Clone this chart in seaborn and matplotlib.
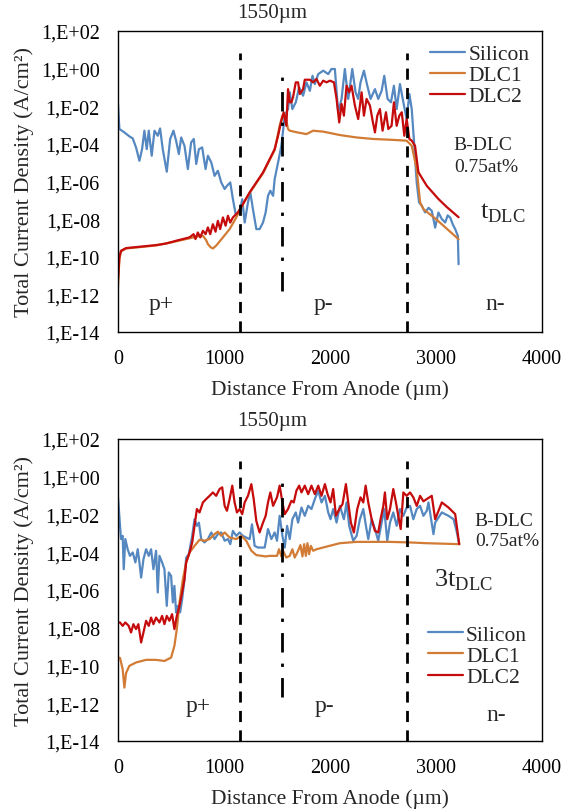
import numpy as np
import pandas as pd
import matplotlib
matplotlib.use("Agg")
import matplotlib.pyplot as plt
import seaborn as sns

# ---- data (x in um, values are log10 of A/cm2) ----
# top panel: t_DLC
top_si_x = [0, 13, 60, 107, 139, 170, 202, 227, 249, 271, 290, 318, 344, 375, 397, 422, 460, 492,
            523, 548, 574, 596, 627, 659, 690, 715, 738, 763, 794, 826, 848, 880, 911, 942, 974,
            1006, 1028, 1059, 1084, 1110, 1147, 1172, 1195, 1226, 1248, 1273, 1305, 1336, 1368,
            1393, 1415, 1437, 1463, 1478, 1510, 1541, 1573, 1604, 1620, 1645, 1677, 1709, 1746,
            1778, 1810, 1835, 1857, 1889, 1936, 1983, 2014, 2046, 2077, 2109, 2140, 2172, 2210,
            2241, 2266, 2288, 2320, 2352, 2383, 2424, 2455, 2487, 2512, 2543, 2575, 2603, 2629,
            2660, 2692, 2723, 2749, 2771, 2793, 2818, 2840, 2866, 2897, 2930, 2960, 2992, 3023,
            3055, 3087, 3110, 3134, 3160, 3181, 3206, 3213]
top_si_log = [-1.9, -3.21, -3.39, -3.6, -3.71, -4.19, -4.9, -4.28, -3.3, -4.28, -3.3, -4.63, -3.3,
              -3.57, -3.18, -4.28, -5.48, -3.74, -3.3, -3.83, -4.54, -3.66, -4.1, -5.34, -3.92,
              -3.74, -5.07, -4.28, -4.19, -5.34, -4.63, -4.99, -5.7, -5.43, -6.05, -6.4, -6.23,
              -6.05, -6.94, -7.73, -7.68, -6.94, -8.18, -7.11, -6.58, -7.47, -8.53, -8.53, -8.18,
              -7.64, -6.76, -6.49, -6.76, -5.87, -4.99, -4.1, -2.5, -2.15, -1.26, -2.15, -1.79,
              -1.0, -1.44, -0.73, -1.18, -0.38, -0.82, -0.29, -0.11, -0.29, -0.02, -0.02, -2.32,
              -1.61, -0.02, -1.61, -0.02, -1.26, -1.61, -0.73, -0.11, -0.91, -1.61, -1.09, -1.61,
              -1.18, -0.38, -1.61, -1.79, -0.91, -2.15, -0.82, -1.79, -2.68, -1.35, -2.15, -3.92,
              -6.05, -7.11, -7.29, -7.64, -7.4, -7.56, -8.45, -7.65, -8.0, -8.18, -7.8, -7.92,
              -8.3, -8.53, -8.89, -10.4]

top_d1_x = [0, 13, 28, 76, 202, 359, 517, 612, 675, 750, 801, 830, 848, 875, 895, 926, 990, 1053,
            1116, 1178, 1242, 1305, 1368, 1431, 1478, 1525, 1551, 1573, 1588, 1604, 1620, 1700,
            1778, 1841, 1936, 2093, 2251, 2408, 2566, 2723, 2771, 2818, 2850, 2881, 3000, 3100, 3213]
top_d1_log = [-11.6, -10.1, -9.72, -9.56, -9.49, -9.4, -9.22, -9.1, -9.02, -8.92, -8.89, -9.1,
              -9.33, -9.5, -9.56, -9.41, -8.97, -8.53, -7.91, -7.22, -6.6, -6.08, -5.56, -4.85,
              -4.32, -3.04, -2.5, -2.41, -2.77, -3.21, -3.3, -3.4, -3.48, -3.3, -3.35, -3.53,
              -3.66, -3.74, -3.78, -3.83, -4.1, -5.34, -7.11, -7.47, -8.0, -8.5, -9.07]

top_d2_x = [0, 13, 28, 76, 202, 359, 450, 517, 548, 612, 675, 713, 731, 753, 776, 801, 826, 848,
            870, 895, 920, 942, 964, 990, 1015, 1037, 1059, 1084, 1131, 1178, 1242, 1305, 1368,
            1431, 1478, 1510, 1541, 1563, 1588, 1604, 1620, 1636, 1651, 1677, 1699, 1715, 1746,
            1762, 1810, 1841, 1873, 1904, 1936, 1967, 1999, 2037, 2062, 2087, 2109, 2131, 2156,
            2181, 2203, 2235, 2266, 2298, 2320, 2345, 2377, 2402, 2424, 2446, 2471, 2496, 2528,
            2550, 2581, 2603, 2629, 2654, 2677, 2701, 2723, 2749, 2771, 2802, 2834, 2866, 2913,
            3023, 3100, 3213]
top_d2_log = [-11.2, -10.04, -9.68, -9.54, -9.47, -9.38, -9.3, -9.2, -9.15, -9.06, -8.97, -8.8,
              -9.06, -8.71, -8.97, -8.62, -8.8, -8.44, -8.8, -8.27, -8.67, -8.09, -8.53, -7.91,
              -8.35, -7.82, -8.18, -7.91, -7.64, -7.2, -6.58, -6.05, -5.52, -4.81, -4.28, -3.57,
              -2.77, -2.32, -3.04, -1.09, -1.79, -1.79, -1.53, -0.73, -0.73, -1.35, -1.09, -0.59,
              -0.59, -0.73, -0.55, -0.91, -0.64, -0.73, -0.64, -0.73, -1.61, -2.86, -1.88, -2.5,
              -0.91, -1.26, -0.91, -1.97, -2.68, -1.26, -2.5, -1.61, -1.97, -2.77, -3.39, -2.5,
              -2.15, -3.3, -2.32, -3.21, -3.04, -1.79, -3.04, -2.5, -2.32, -3.57, -2.68, -3.74,
              -3.83, -4.1, -5.5, -5.8, -6.23, -6.93, -7.35, -7.9]

# bottom panel: 3t_DLC
bot_si_x = [0, 28, 44, 54, 69, 91, 113, 139, 164, 186, 202, 218, 240, 265, 290, 312, 334, 359,
            375, 391, 416, 438, 460, 479, 501, 517, 532, 548, 564, 586, 605, 627, 643, 668, 700,
            722, 744, 763, 785, 816, 848, 880, 911, 942, 974, 1006, 1037, 1059, 1084, 1116, 1147,
            1178, 1210, 1242, 1264, 1289, 1320, 1384, 1415, 1447, 1478, 1500, 1525, 1551, 1573,
            1595, 1620, 1645, 1677, 1699, 1731, 1762, 1794, 1825, 1857, 1889, 1920, 1952, 1983,
            2005, 2030, 2062, 2093, 2131, 2156, 2181, 2219, 2251, 2282, 2314, 2339, 2361, 2393,
            2424, 2455, 2487, 2512, 2540, 2566, 2597, 2629, 2660, 2692, 2723, 2755, 2786, 2818,
            2850, 2881, 2913, 2929, 2976, 2992, 3055, 3118, 3166, 3197, 3219]
bot_si_log = [-1.09, -3.3, -3.13, -4.9, -3.3, -3.84, -4.19, -4.01, -4.54, -3.84, -4.54, -5.34,
              -4.37, -3.84, -4.19, -3.84, -4.9, -3.92, -6.13, -4.19, -4.54, -4.9, -6.84, -5.07,
              -5.25, -6.66, -5.78, -7.19, -6.84, -7.19, -6.49, -5.43, -4.28, -4.1, -3.13, -2.25,
              -2.6, -2.43, -3.3, -3.48, -3.3, -2.95, -3.3, -3.04, -2.95, -3.39, -3.3, -3.57,
              -2.87, -3.13, -2.95, -3.13, -3.22, -3.3, -2.52, -3.66, -3.75, -3.75, -2.77, -3.3,
              -2.95, -3.39, -2.07, -3.13, -3.75, -2.6, -3.3, -2.25, -1.89, -2.43, -1.63, -2.07,
              -1.54, -1.71, -1.18, -0.74, -1.36, -1.01, -1.89, -2.25, -1.71, -2.43, -1.54, -2.25,
              -1.36, -2.6, -3.39, -3.13, -2.25, -1.71, -2.6, -3.3, -2.25, -2.77, -3.39, -2.43,
              -1.71, -3.39, -2.43, -1.89, -2.6, -1.71, -2.07, -1.63, -1.54, -2.25, -1.71, -1.54,
              -2.07, -1.8, -1.36, -3.04, -2.43, -1.89, -2.07, -2.25, -2.95, -3.57]

bot_d1_x = [0, 19, 44, 60, 76, 107, 170, 265, 359, 438, 501, 532, 555, 580, 612, 643, 675, 722,
            769, 816, 864, 911, 942, 974, 1006, 1053, 1116, 1163, 1210, 1258, 1305, 1393, 1431,
            1500, 1519, 1541, 1557, 1588, 1620, 1645, 1667, 1699, 1721, 1740, 1756, 1772, 1787,
            1803, 1819, 1841, 1873, 1967, 2093, 2251, 2408, 2566, 2755, 2913, 3219]
bot_d1_log = [-9.58, -9.6, -10.2, -11.17, -10.4, -10.02, -9.84, -9.7, -9.7, -9.76, -9.58, -8.96,
              -8.07, -6.66, -5.43, -4.54, -4.01, -3.66, -3.34, -3.39, -3.3, -3.04, -2.91, -3.13,
              -2.95, -3.22, -3.3, -3.13, -3.39, -3.92, -4.15, -4.22, -4.19, -4.19, -3.84, -4.22,
              -3.92, -4.28, -4.19, -3.84, -4.28, -3.92, -3.62, -4.22, -3.57, -4.19, -3.52, -4.1,
              -3.66, -3.92, -3.84, -3.7, -3.52, -3.45, -3.45, -3.45, -3.48, -3.52, -3.57]

bot_d2_x = [0, 19, 44, 69, 101, 123, 145, 170, 192, 218, 240, 265, 290, 312, 334, 359, 391, 416,
            438, 460, 485, 510, 532, 555, 580, 605, 627, 643, 675, 700, 722, 744, 769, 801, 832,
            864, 895, 926, 958, 983, 1006, 1028, 1053, 1078, 1100, 1122, 1147, 1172, 1195, 1226,
            1258, 1280, 1305, 1336, 1368, 1393, 1415, 1437, 1463, 1500, 1525, 1551, 1573, 1604,
            1636, 1658, 1683, 1709, 1731, 1762, 1794, 1825, 1857, 1889, 1920, 1952, 1977, 2005,
            2030, 2056, 2087, 2118, 2150, 2172, 2197, 2225, 2257, 2288, 2314, 2336, 2361, 2393,
            2424, 2455, 2477, 2503, 2518, 2540, 2566, 2597, 2622, 2644, 2667, 2692, 2723, 2755,
            2786, 2818, 2850, 2881, 2913, 2960, 2992, 3055, 3118, 3181, 3219]
bot_d2_log = [-7.72, -7.72, -7.9, -7.72, -7.9, -8.25, -7.81, -8.07, -7.81, -8.78, -8.25, -7.63,
              -7.9, -7.46, -7.81, -7.46, -7.72, -7.37, -7.81, -7.37, -7.63, -7.28, -8.07, -7.37,
              -6.84, -6.13, -5.43, -4.54, -4.01, -3.48, -2.6, -1.71, -1.89, -1.36, -1.18, -1.01,
              -0.83, -1.01, -0.65, -0.56, -1.54, -1.8, -1.18, -0.47, -1.36, -1.89, -1.71, -1.98,
              -1.36, -1.01, -0.39, -1.18, -2.35, -2.95, -2.43, -2.07, -1.36, -0.83, -1.54, -1.09,
              -0.47, -1.36, -1.98, -1.71, -1.27, -1.36, -0.74, -0.47, -0.83, -0.47, -0.92, -0.47,
              -0.92, -0.47, -1.01, -0.39, -0.92, -1.36, -0.65, -2.07, -1.71, -1.45, -0.39, -1.36,
              -2.43, -2.95, -1.71, -1.09, -1.36, -0.47, -1.36, -2.25, -2.87, -2.95, -2.25, -1.54,
              -0.83, -2.25, -1.71, -0.65, -1.36, -2.07, -2.77, -0.83, -1.01, -0.83, -1.09, -1.54,
              -1.01, -1.3, -1.18, -1.01, -2.25, -1.36, -1.63, -1.98, -3.57]

series_names = ["Silicon", "DLC1", "DLC2"]
colors = {"Silicon": "#5588c0", "DLC1": "#d27b34", "DLC2": "#c50b0b"}
junctions = [1150, 2730]
mid_depth = 1550
ytick_vals = [1e2, 1e0, 1e-2, 1e-4, 1e-6, 1e-8, 1e-10, 1e-12, 1e-14]
ytick_labels = ["1,E+02", "1,E+00", "1,E-02", "1,E-04", "1,E-06", "1,E-08", "1,E-10", "1,E-12", "1,E-14"]
xtick_vals = [0, 1000, 2000, 3000, 4000]


def make_df(parts):
    frames = []
    for name, xs, lg in parts:
        frames.append(pd.DataFrame({"x": xs, "y": 10.0 ** np.array(lg), "series": name}))
    return pd.concat(frames, ignore_index=True)


df_top = make_df([("Silicon", top_si_x, top_si_log), ("DLC1", top_d1_x, top_d1_log),
                  ("DLC2", top_d2_x, top_d2_log)])
df_bot = make_df([("Silicon", bot_si_x, bot_si_log), ("DLC1", bot_d1_x, bot_d1_log),
                  ("DLC2", bot_d2_x, bot_d2_log)])

sns.set_style("white")
plt.rcParams["font.family"] = ["Liberation Serif", "DejaVu Serif"]
plt.rcParams["mathtext.fontset"] = "custom"
plt.rcParams["mathtext.rm"] = "Liberation Serif"

fig = plt.figure(figsize=(5.66, 8.12), dpi=100)
ax1 = fig.add_axes([0.2085, 0.5899, 0.7491, 0.3707])
ax2 = fig.add_axes([0.2085, 0.0862, 0.7491, 0.3719])


def style_axis(ax, df, dd_ymax, dd_ymin, legend_loc, legend_anchor):
    ax.set_yscale("log")
    sns.lineplot(data=df, x="x", y="y", hue="series", hue_order=series_names, palette=colors,
                 estimator=None, sort=False, lw=1.6, ax=ax)
    ax.set_xlim(0, 4000)
    ax.set_ylim(1e-14, 1e2)
    ax.set_xticks(xtick_vals, [str(v) for v in xtick_vals])
    ax.set_yticks(ytick_vals, ytick_labels)
    ax.minorticks_off()
    ax.tick_params(axis="both", length=0, labelsize=14.5, colors="black")
    ax.tick_params(axis="y", pad=13)
    ax.tick_params(axis="x", pad=12)
    ax.set_xlabel("Distance From Anode (\u00b5m)", fontsize=15.5, labelpad=8)
    ax.set_ylabel("Total Current Density (A/cm\u00b2)", fontsize=16, labelpad=5)
    for sp in ax.spines.values():
        sp.set_color("black")
        sp.set_linewidth(1.0)
    for j in junctions:
        ax.axvline(j, ymin=0, ymax=0.927, color="black", lw=2.0, ls=(0, (4, 3)))
    ax.axvline(mid_depth, ymin=dd_ymin, ymax=dd_ymax, color="black", lw=2.0,
               ls=(0, (7, 4, 1.2, 4)))
    ax.text(1450, 1.06, "1550\u00b5m", transform=ax.get_xaxis_transform(),
            ha="center", va="center", fontsize=15)
    sns.move_legend(ax, legend_loc, bbox_to_anchor=legend_anchor, frameon=False, title=None,
                    fontsize=15.5, handlelength=1.6, handletextpad=0.15, labelspacing=0.05,
                    borderaxespad=0)


style_axis(ax1, df_top, 0.880, 0.136, "upper right", (0.99, 0.985))
style_axis(ax2, df_bot, 0.877, 0.146, "lower right", (0.985, 0.15))

# region labels and annotations
ax1.text(407, 10 ** -12.5, "p+", fontsize=17, ha="center", va="center")
ax1.text(1940, 10 ** -12.5, "p-", fontsize=17, ha="center", va="center")
ax1.text(3560, 10 ** -12.5, "n-", fontsize=17, ha="center", va="center")
ax1.text(3168, 10 ** -4.06, "B-DLC", fontsize=14, ha="left", va="center")
ax1.text(3168, 10 ** -5.2, "0.75at%", fontsize=14, ha="left", va="center")
ax1.text(3414, 10 ** -7.63, r"t$_{\mathrm{DLC}}$", fontsize=19, ha="left", va="center")

ax2.text(757, 10 ** -12.1, "p+", fontsize=17, ha="center", va="center")
ax2.text(1948, 10 ** -12.1, "p-", fontsize=17, ha="center", va="center")
ax2.text(3565, 10 ** -12.6, "n-", fontsize=17, ha="center", va="center")
ax2.text(3366, 10 ** -2.3, "B-DLC", fontsize=14, ha="left", va="center")
ax2.text(3366, 10 ** -3.4, "0.75at%", fontsize=14, ha="left", va="center")
ax2.text(2979, 10 ** -5.43, r"3t$_{\mathrm{DLC}}$", fontsize=19, ha="left", va="center")

fig.savefig("out.png", dpi=100)
